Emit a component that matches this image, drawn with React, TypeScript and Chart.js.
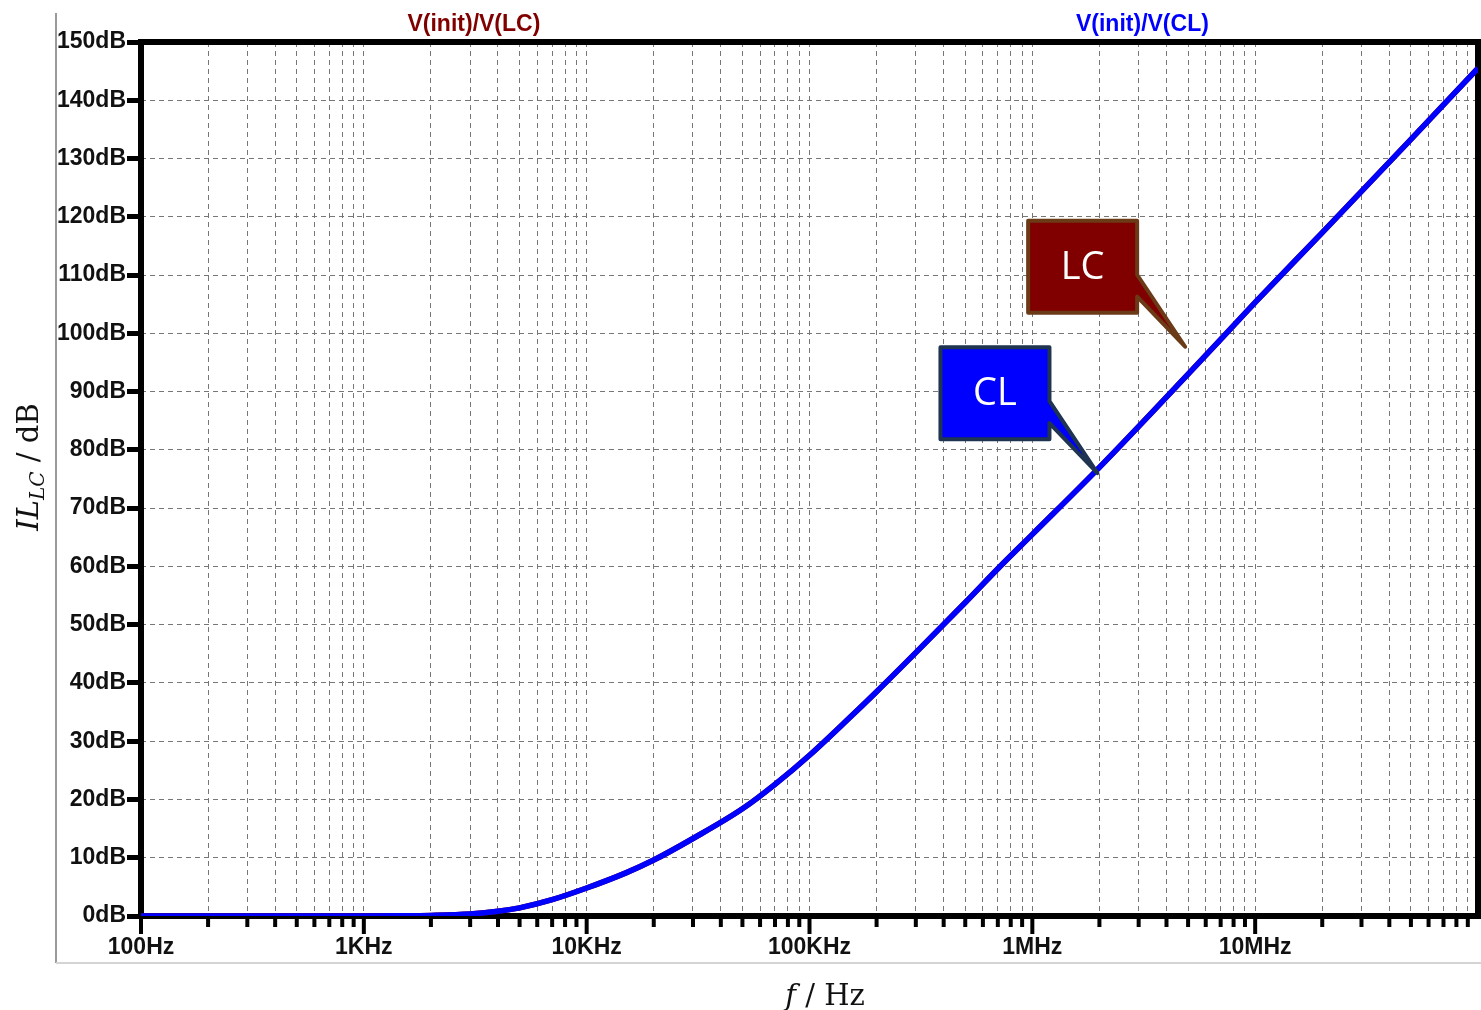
import React, { useEffect, useRef } from "react";
import { Chart, registerables } from "chart.js";

Chart.register(...registerables);

// ---- data ----
const freqHz = [100, 1000, 1500, 2000, 3000, 4000, 5000, 7000, 10000, 15000, 20000, 30000, 50000, 70000, 100000, 150000, 200000, 300000, 500000, 700000, 1000000, 2000000, 5000000, 10000000, 20000000, 50000000, 100000000];
const ilCL_dB = [0, 0, 0.03, 0.1, 0.35, 0.8, 1.4, 2.8, 4.8, 7.4, 9.6, 13.3, 18.4, 22.6, 27.6, 33.9, 38.5, 45.2, 53.8, 59.6, 65.5, 77.0, 93.0, 105.3, 117.3, 133.3, 145.5];
const ilLC_dB = [0, 0, 0.03, 0.1, 0.35, 0.8, 1.4, 2.8, 4.8, 7.4, 9.6, 13.3, 18.4, 22.6, 27.6, 33.9, 38.5, 45.2, 53.8, 59.6, 65.5, 77.0, 93.0, 105.3, 117.3, 133.3, 145.5];
const decadeValues = [100, 1000, 10000, 100000, 1000000, 10000000];
const decadeLabels = ["100Hz", "1KHz", "10KHz", "100KHz", "1MHz", "10MHz"];
const xMin = 100;
const xMax = 100000000;
const yMin = 0;
const yMax = 150;
const yStep = 10;
const traceLabels = ["V(init)/V(LC)", "V(init)/V(CL)"];
const calloutText = ["LC", "CL"];
const calloutAnchorHz = [4850000, 1960000];
const calloutAnchorDB = [97.7, 76.0];

const C_LC = "#800000";
const C_CL = "#0000ff";

const xTickValues: number[] = [];
for (const d of decadeValues) for (let m = 1; m <= 9; m++) xTickValues.push(d * m);
xTickValues.push(xMax);

const TICK_FONT = 'bold 23px "Liberation Sans", Arial, sans-serif';
const SERIF = '"DejaVu Serif", serif';

const framePlugin = {
  id: "ltspiceFrame",
  beforeDatasetsDraw(chart: any) {
    const { ctx, chartArea: a, scales } = chart;
    const xs = scales.x;
    ctx.save();
    // x tick marks
    ctx.strokeStyle = "#000";
    for (const v of xTickValues) {
      if (v === xMax) continue;
      const px = xs.getPixelForValue(v);
      const major = decadeValues.includes(v);
      ctx.lineWidth = 4;
      ctx.beginPath();
      ctx.moveTo(px, a.bottom);
      ctx.lineTo(px, a.bottom + (major ? 18 : 11));
      ctx.stroke();
    }
    // thick border
    ctx.lineWidth = 6;
    ctx.strokeStyle = "#000";
    ctx.strokeRect(a.left, a.top, a.right - a.left, a.bottom - a.top);
    ctx.restore();
  },
  afterDraw(chart: any) {
    const { ctx, chartArea: a, scales } = chart;
    ctx.save();
    // gray outer frame lines
    ctx.strokeStyle = "#9a9a9a";
    ctx.lineWidth = 2;
    ctx.beginPath();
    ctx.moveTo(56, 13);
    ctx.lineTo(56, 963);
    ctx.stroke();
    ctx.strokeStyle = "#d4d4d4";
    ctx.beginPath();
    ctx.moveTo(56, 963);
    ctx.lineTo(chart.width, 963);
    ctx.stroke();

    // trace labels on top
    ctx.font = TICK_FONT;
    ctx.textAlign = "center";
    ctx.textBaseline = "middle";
    const w = a.right - a.left;
    ctx.fillStyle = C_LC;
    ctx.fillText(traceLabels[0], a.left + w * 0.249, 25);
    ctx.fillStyle = C_CL;
    ctx.fillText(traceLabels[1], a.left + w * 0.749, 25);

    // callouts
    const fills = [C_LC, C_CL];
    const strokes = ["#6b3a17", "#1e3450"];
    for (let i = 0; i < calloutText.length; i++) {
      const tx = scales.x.getPixelForValue(calloutAnchorHz[i]);
      const ty = scales.y.getPixelForValue(calloutAnchorDB[i]);
      const left = tx - 157;
      const top = ty - 126;
      const right = left + 109;
      const bottom = top + 92;
      ctx.beginPath();
      ctx.moveTo(left, top);
      ctx.lineTo(right, top);
      ctx.lineTo(right, ty - 72);
      ctx.lineTo(tx, ty);
      ctx.lineTo(right, ty - 50);
      ctx.lineTo(right, bottom);
      ctx.lineTo(left, bottom);
      ctx.closePath();
      ctx.fillStyle = fills[i];
      ctx.fill();
      ctx.lineWidth = 4;
      ctx.lineJoin = "round";
      ctx.strokeStyle = strokes[i];
      ctx.stroke();
      ctx.fillStyle = "#fff";
      ctx.font = '38px "Open Sans", "Noto Sans", sans-serif';
      ctx.textAlign = "center";
      ctx.textBaseline = "middle";
      ctx.fillText(calloutText[i], (left + right) / 2, (top + bottom) / 2 + 1);
    }

    // axis titles
    ctx.fillStyle = "#111";
    ctx.textBaseline = "alphabetic";
    ctx.textAlign = "left";
    // x title
    const xParts = [
      { t: "f", f: `italic 29px ${SERIF}` },
      { t: " / Hz", f: `29px ${SERIF}` },
    ];
    let tw = 0;
    for (const p of xParts) { ctx.font = p.f; tw += ctx.measureText(p.t).width; }
    let cx = 825 - tw / 2;
    for (const p of xParts) { ctx.font = p.f; ctx.fillText(p.t, cx, 1005); cx += ctx.measureText(p.t).width; }
    // y title
    const yParts = [
      { t: "IL", f: `italic 29px ${SERIF}`, dy: 0 },
      { t: "LC", f: `italic 20px ${SERIF}`, dy: 6 },
      { t: " / dB", f: `29px ${SERIF}`, dy: 0 },
    ];
    ctx.translate(28, 467);
    ctx.rotate(-Math.PI / 2);
    tw = 0;
    for (const p of yParts) { ctx.font = p.f; tw += ctx.measureText(p.t).width; }
    cx = -tw / 2;
    for (const p of yParts) { ctx.font = p.f; ctx.fillText(p.t, cx, 10 + p.dy); cx += ctx.measureText(p.t).width; }
    ctx.restore();
  },
};

export default function App() {
  const ref = useRef<HTMLCanvasElement | null>(null);
  useEffect(() => {
    if (!ref.current) return;
    const chart = new Chart(ref.current, {
      type: "line",
      data: {
        datasets: [
          {
            label: traceLabels[1],
            data: freqHz.map((f, i) => ({ x: f, y: ilCL_dB[i] })),
            borderColor: C_CL,
            backgroundColor: C_CL,
            borderWidth: 5.5,
            pointRadius: 0,
            cubicInterpolationMode: "monotone",
          },
          {
            label: traceLabels[0],
            data: freqHz.map((f, i) => ({ x: f, y: ilLC_dB[i] })),
            borderColor: C_LC,
            backgroundColor: C_LC,
            borderWidth: 5.5,
            pointRadius: 0,
            cubicInterpolationMode: "monotone",
          },
        ],
      },
      options: {
        responsive: false,
        animation: false,
        events: [],
        layout: { padding: { left: 0, top: 42, right: 3, bottom: 0 } },
        plugins: { legend: { display: false }, tooltip: { enabled: false }, title: { display: false } },
        scales: {
          x: {
            type: "logarithmic",
            min: xMin,
            max: xMax,
            afterBuildTicks: (scale: any) => {
              scale.ticks = xTickValues.map((v) => ({ value: v }));
            },
            afterFit: (scale: any) => {
              scale.height = 94;
              scale.paddingLeft = 0;
              scale.paddingRight = 0;
            },
            ticks: {
              autoSkip: false,
              maxRotation: 0,
              minRotation: 0,
              padding: 18,
              color: "#111",
              font: { family: '"Liberation Sans", Arial, sans-serif', size: 23, weight: "bold" },
              callback: (value: any) => {
                const idx = decadeValues.indexOf(Number(value));
                return idx >= 0 ? decadeLabels[idx] : "";
              },
            },
            grid: {
              color: "#777777",
              lineWidth: 1,
              drawTicks: false,
            },
            border: { display: false, dash: [5, 4] },
          },
          y: {
            type: "linear",
            min: yMin,
            max: yMax,
            afterFit: (scale: any) => {
              scale.width = 141;
            },
            ticks: {
              stepSize: yStep,
              padding: 1,
              color: "#111",
              font: { family: '"Liberation Sans", Arial, sans-serif', size: 23, weight: "bold" },
              callback: (value: any) => `${value}dB`,
            },
            grid: {
              color: "#777777",
              lineWidth: 1,
              drawTicks: true,
              tickLength: 14,
              tickWidth: 5,
              tickColor: "#000",
              tickBorderDash: [],
            },
            border: { display: false, dash: [5, 4] },
          },
        },
      },
      plugins: [framePlugin],
    } as any);
    return () => chart.destroy();
  }, []);
  return (
    <div style={{ position: "absolute", left: 0, top: 0, width: 1481, height: 1010, background: "#fff" }}>
      <canvas ref={ref} width={1481} height={1010} style={{ display: "block" }} />
    </div>
  );
}
